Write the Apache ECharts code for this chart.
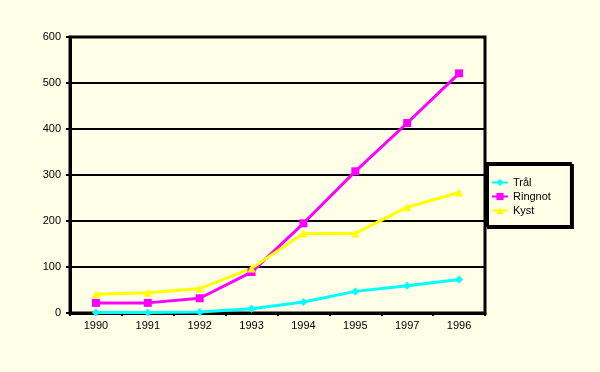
<!DOCTYPE html>
<html>
<head>
<meta charset="utf-8">
<script src="https://cdn.jsdelivr.net/npm/echarts@6/dist/echarts.min.js"></script>
<style>
html,body{margin:0;padding:0;background:#FFFFE8;}
#c{width:600px;height:372px;}
</style>
</head>
<body>
<div id="c"></div>
<script>
const categories = ['1990','1991','1992','1993','1994','1995','1997','1996'];
const tral = [1, 1, 2, 9, 24, 47, 59, 73];
const ringnot = [22, 22, 32, 89, 195, 308, 413, 521];
const kyst = [41, 44, 53, 97, 173, 173, 230, 262];
const yTicks = {min: 0, max: 600, interval: 100};

const chart = echarts.init(document.getElementById('c'));
const txt = {color: '#000', fontFamily: 'Liberation Sans, Arial, sans-serif', fontSize: 11};
function mk(name, data, color, symbol, size) {
  return {
    name: name, type: 'line', data: data, symbol: symbol, symbolSize: size,
    lineStyle: {color: color, width: 3}, itemStyle: {color: color},
    emphasis: {disabled: true}
  };
}
chart.setOption({
  backgroundColor: '#FFFFE8',
  animation: false,
  grid: {left: 70, right: 115, top: 37, bottom: 59, show: true, borderColor: '#000', borderWidth: 3, backgroundColor: 'transparent'},
  xAxis: {
    type: 'category', data: categories, boundaryGap: true,
    axisLine: {lineStyle: {color: '#000', width: 3}},
    axisTick: {show: true, length: 3, lineStyle: {color: '#000', width: 2}},
    axisLabel: Object.assign({margin: 7}, txt)
  },
  yAxis: {
    type: 'value', min: yTicks.min, max: yTicks.max, interval: yTicks.interval,
    axisLine: {show: true, lineStyle: {color: '#000', width: 3}},
    axisTick: {show: true, length: 4, lineStyle: {color: '#000', width: 2}},
    splitLine: {lineStyle: {color: '#000', width: 2}},
    axisLabel: Object.assign({margin: 9}, txt)
  },
  legend: {
    orient: 'vertical', left: 486, top: 163,
    padding: [14, 20, 10, 5],
    itemGap: 3, itemWidth: 16, itemHeight: 9,
    backgroundColor: '#FFFFE8',
    borderColor: '#000', borderWidth: 2,
    shadowColor: '#000', shadowBlur: 0, shadowOffsetX: 2, shadowOffsetY: 2,
    textStyle: txt,
    data: ['Trål', 'Ringnot', 'Kyst']
  },
  series: [
    mk('Trål', tral, '#00FFFF', 'diamond', 8),
    mk('Ringnot', ringnot, '#FF00FF', 'rect', 8),
    mk('Kyst', kyst, '#FFFF00', 'triangle', 8)
  ]
});
</script>
</body>
</html>
